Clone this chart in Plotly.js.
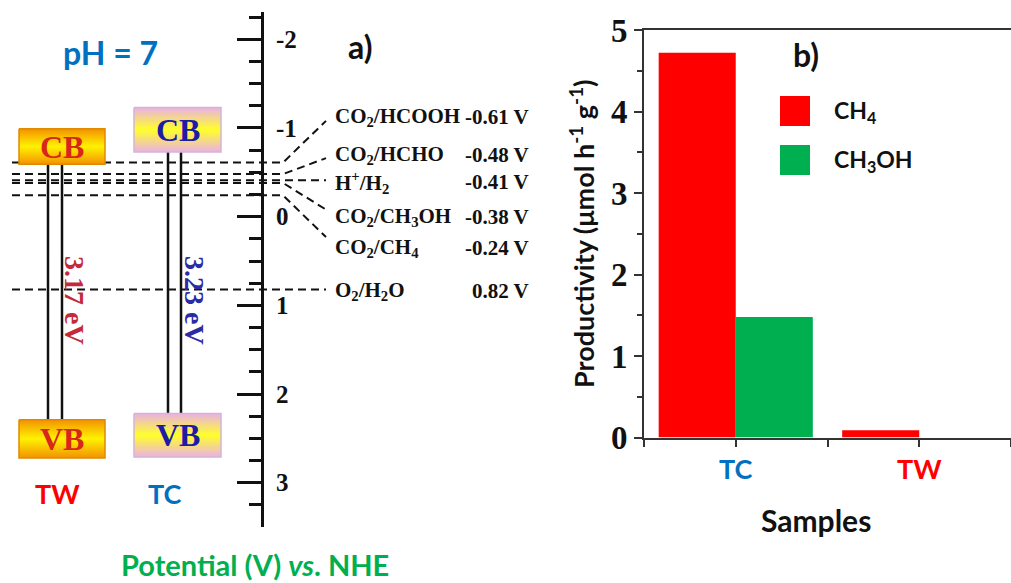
<!DOCTYPE html>
<html>
<head>
<meta charset="utf-8">
<script src="https://cdn.plot.ly/plotly-3.0.1.min.js"></script>
<style>html,body{margin:0;padding:0;background:#fff}#chart{width:1011px;height:583px}</style>
</head>
<body>
<div id="chart"></div>
<script>
// ---------- DATA: panel a (band positions, V vs NHE) ----------
const bandSamples = ['TW', 'TC'];
const cbPotential = [-0.59, -0.73];   // conduction band edge
const vbPotential = [2.29, 2.22];     // valence band edge
const bandGap = [3.17, 3.23];         // eV
const redoxCouples = ['CO<sub>2</sub>/HCOOH', 'CO<sub>2</sub>/HCHO', 'H<sup>+</sup>/H<sub>2</sub>',
                      'CO<sub>2</sub>/CH<sub>3</sub>OH', 'CO<sub>2</sub>/CH<sub>4</sub>', 'O<sub>2</sub>/H<sub>2</sub>O'];
const redoxPotentials = [-0.61, -0.48, -0.41, -0.38, -0.24, 0.82];
const potentialTicks = [-2, -1, 0, 1, 2, 3];

// ---------- DATA: panel b (productivity, µmol h-1 g-1) ----------
const productSamples = ['TC', 'TW'];
const seriesNames = ['CH<sub>4</sub>', 'CH<sub>3</sub>OH'];
const ch4Rate = [4.72, 0.09];
const ch3ohRate = [1.48, 0];
const productivityTicks = [0, 1, 2, 3, 4, 5];

// ---------- STYLE / LAYOUT constants ----------
const W = 1011, H = 583;
const py = p => 1 - p / H;            // pixel row -> paper y
const px = p => p / W;                // pixel col -> paper x
const sampleColor = {TW: '#ff0000', TC: '#0070c0'};
const bandStyle = {
  TW: {box: [19, 105], lines: [48, 62], cbH: 0.40, vbH: 0.43, edge: '#e08a00',
       grad: [[0, '#f39200'], [0.5, '#fff200'], [1, '#f39200']], text: '#d8261b', gapText: '#c42a3a', gapX: 75, labelX: 57},
  TC: {box: [134, 221], lines: [168, 181], cbH: 0.50, vbH: 0.49, edge: '#d6b3d6',
       grad: [[0, '#eab1e4'], [0.5, '#ffff2a'], [1, '#eab1e4']], text: '#1c1ca6', gapText: '#2b2ba6', gapX: 195, labelX: 165}
};
const redoxLineX = [12, 283, 326];
const redoxEndV = [-1.08, -0.66, -0.41, -0.08, 0.23, 0.82];
const redoxLabelV = [-1.12, -0.69, -0.39, 0.00, 0.35, 0.84];
const serifFam = 'Liberation Serif, Times New Roman, serif';
const sans = 'Lato, Open Sans, sans-serif';
const barColors = ['#ff0000', '#00b050'];

const traces = [];
const annotations = [];
const shapes = [];
function note(o) {
  annotations.push(Object.assign({showarrow: false, xanchor: 'center', yanchor: 'middle'}, o));
}

// redox dashed lines
redoxPotentials.forEach((v, i) => {
  traces.push({
    type: 'scatter', mode: 'lines', xaxis: 'x', yaxis: 'y', hoverinfo: 'skip', showlegend: false,
    x: redoxLineX, y: [v, v, redoxEndV[i]],
    line: {color: '#111', width: 2, dash: '8px,5px'}
  });
  note({xref: 'x', yref: 'y', x: 333, y: redoxLabelV[i], xanchor: 'left',
    text: redoxCouples[i], font: {family: serifFam, weight: 'bold', size: 21, color: '#111'}});
  note({xref: 'x', yref: 'y', x: 531, y: redoxLabelV[i], xanchor: 'right',
    text: redoxPotentials[i].toFixed(2) + ' V', font: {family: serifFam, weight: 'bold', size: 21, color: '#111'}});
});

// band boxes, gap lines, labels
bandSamples.forEach((s, i) => {
  const st = bandStyle[s];
  const cb = cbPotential[i], vb = vbPotential[i];
  const boxes = [[cb - st.cbH, cb, 'CB'], [vb, vb + st.vbH, 'VB']];
  st.lines.forEach(lx => traces.push({
    type: 'scatter', mode: 'lines', xaxis: 'x', yaxis: 'y', hoverinfo: 'skip', showlegend: false,
    x: [lx, lx], y: [cb, vb], line: {color: '#111', width: 2.5}
  }));
  boxes.forEach(([top, bot, lab]) => {
    traces.push({
      type: 'scatter', mode: 'lines', xaxis: 'x', yaxis: 'y', hoverinfo: 'skip', showlegend: false,
      x: [st.box[0], st.box[1], st.box[1], st.box[0], st.box[0]], y: [top, top, bot, bot, top],
      fill: 'toself', fillgradient: {type: 'vertical', colorscale: st.grad},
      line: {color: st.edge, width: 1.5}
    });
    note({xref: 'x', yref: 'y', x: (st.box[0] + st.box[1]) / 2, y: (top + bot) / 2, text: lab,
      font: {family: serifFam, weight: 'bold', size: 32, color: st.text}});
  });
  note({xref: 'x', yref: 'y', x: st.gapX, y: 0.94, text: bandGap[i].toFixed(2) + ' eV', textangle: 90,
    font: {family: serifFam, weight: 'bold', size: 28, color: st.gapText}});
  note({xref: 'x', yref: 'paper', x: st.labelX, y: py(493), text: s,
    font: {family: sans, weight: 'bold', size: 27, color: sampleColor[s]}});
});

// panel b bars
const rateSeries = [ch4Rate, ch3ohRate];
const sampleIdx = productSamples.map((_, i) => i);
rateSeries.forEach((vals, k) => {
  traces.push({
    type: 'bar', xaxis: 'x2', yaxis: 'y2', name: seriesNames[k], x: sampleIdx, y: vals,
    marker: {color: barColors[k], line: {width: 0}}, hoverinfo: 'skip', showlegend: false
  });
  // custom legend entries (large swatches)
  const top = [96, 145][k];
  shapes.push({type: 'rect', xref: 'paper', yref: 'paper', x0: px(780), x1: px(810), y0: py(top + 30), y1: py(top),
    fillcolor: barColors[k], line: {width: 0}});
  note({xref: 'paper', yref: 'paper', x: px(832), y: py(top + 15), xanchor: 'left',
    text: seriesNames[k], font: {family: sans, weight: 'bold', size: 23, color: '#111'}});
});

// free-floating labels
note({xref: 'paper', yref: 'paper', x: px(110), y: py(52), text: 'pH = 7',
  font: {family: sans, weight: 'bold', size: 32, color: '#0070c0'}});
note({xref: 'paper', yref: 'paper', x: px(360), y: py(46), text: 'a)',
  font: {family: sans, weight: 'bold', size: 32, color: '#111'}});
note({xref: 'paper', yref: 'paper', x: px(806), y: py(55), text: 'b)',
  font: {family: sans, weight: 'bold', size: 32, color: '#111'}});
note({xref: 'paper', yref: 'paper', x: px(255), y: py(564), text: 'Potential (V) <i>vs</i>. NHE',
  font: {family: sans, weight: 'bold', size: 29, color: '#00b050'}});
note({xref: 'paper', yref: 'paper', x: px(816), y: py(520), text: 'Samples',
  font: {family: sans, weight: 'bold', size: 30, color: '#111'}});

const tickColorText = productSamples.map(s => '<span style="color:' + sampleColor[s] + '">' + s + '</span>');

const layout = {
  width: W, height: H, margin: {l: 0, r: 0, t: 0, b: 0},
  paper_bgcolor: '#fff', plot_bgcolor: 'rgba(0,0,0,0)', showlegend: false, barmode: 'group',
  bargap: 0.16, bargroupgap: 0,
  xaxis: {domain: [0, 1], range: [0, W], visible: false, fixedrange: true},
  yaxis: {
    domain: [py(526.7), py(11.7)], range: [3.496, -2.311], anchor: 'free', position: px(262), side: 'right',
    showline: true, linecolor: '#111', linewidth: 3, showgrid: false, zeroline: false,
    ticks: 'inside', ticklen: 24, tickwidth: 3, tickcolor: '#111',
    tickmode: 'array', tickvals: potentialTicks, ticktext: potentialTicks.map(String),
    minor: {tickmode: 'linear', tick0: 0, dtick: 0.25, ticks: 'inside', ticklen: 12, tickwidth: 3, tickcolor: '#111', showgrid: false},
    ticklabelstandoff: 7, tickfont: {family: serifFam, weight: 'bold', size: 25, color: '#111'}
  },
  xaxis2: {
    domain: [px(644), 1], range: [-0.5, 1.5], anchor: 'y2',
    showline: true, mirror: true, linecolor: '#333', linewidth: 2, showgrid: false, zeroline: false,
    ticks: 'outside', ticklen: 7, tickwidth: 2, tickcolor: '#333',
    tickmode: 'array', tickvals: [-0.5, 0, 0.5, 1, 1.5], ticktext: ['', tickColorText[0], '', tickColorText[1], ''],
    tickfont: {family: sans, weight: 'bold', size: 27}
  },
  yaxis2: {
    domain: [py(437.5), py(30)], range: [0, 5], anchor: 'x2',
    showline: true, linecolor: '#333', linewidth: 2, showgrid: false, zeroline: false,
    ticks: 'outside', ticklen: 8, tickwidth: 2, tickcolor: '#333',
    tickmode: 'array', tickvals: productivityTicks, ticktext: productivityTicks.map(String),
    minor: {tickmode: 'linear', tick0: 0, dtick: 0.5, ticks: 'outside', ticklen: 5, tickwidth: 2, tickcolor: '#333', showgrid: false},
    tickfont: {family: serifFam, weight: 'bold', size: 33, color: '#111'},
    title: {text: 'Productivity (μmol h<sup>-1</sup> g<sup>-1</sup>)', standoff: 8,
            font: {family: sans, weight: 'bold', size: 27, color: '#111'}}
  },
  annotations: annotations,
  shapes: shapes
};

Plotly.newPlot('chart', traces, layout, {staticPlot: true, displayModeBar: false});
</script>
</body>
</html>
